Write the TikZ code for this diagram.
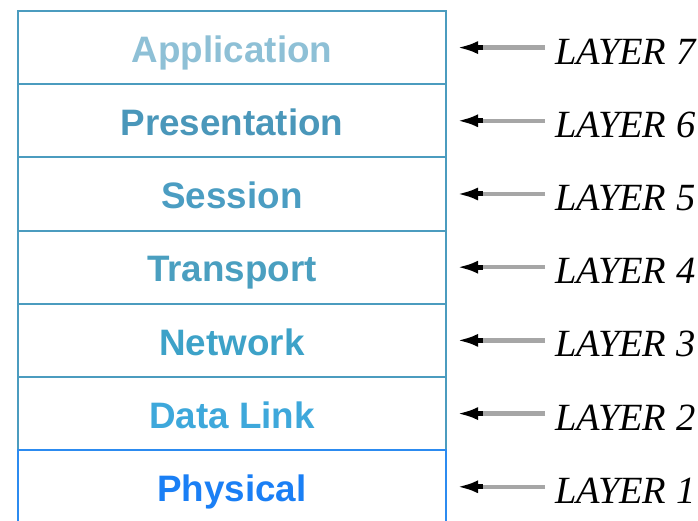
\documentclass[tikz,border=0pt]{standalone}
\usepackage{fontspec}
\setmainfont{Liberation Serif}
\newfontfamily\lsans{Liberation Sans}
\usetikzlibrary{arrows.meta}
\definecolor{boxc}{HTML}{4B9CBF}
\definecolor{physbox}{HTML}{2C8BF0}
\definecolor{cA}{HTML}{8EC0D6}
\definecolor{cP}{HTML}{4A97BA}
\definecolor{cS}{HTML}{4B9DC2}
\definecolor{cT}{HTML}{4A9FC0}
\definecolor{cN}{HTML}{3DA2C8}
\definecolor{cD}{HTML}{3EA8DB}
\definecolor{cPh}{HTML}{1A7FF5}
\definecolor{arrgray}{HTML}{A6A6A6}
\begin{document}
\begin{tikzpicture}[x=1pt,y=1pt,
  layerbox/.style={draw=boxc, line width=2pt, fill=white, anchor=north west,
    minimum width=428pt, minimum height=73.2pt, inner sep=0pt,
    text height=29.5pt, text depth=0pt,
    font=\lsans\bfseries\fontsize{36.8}{36.8}\selectfont},
  laylabel/.style={anchor=west, inner sep=0pt, text height=33pt, text depth=0pt,
    font=\itshape\fontsize{38.5}{38.5}\selectfont},
  grayshaft/.style={draw=arrgray, line width=4.5pt, shorten <=10pt, shorten >=36pt},
  blackhead/.style={draw=black, line width=5pt, shorten <=72pt, shorten >=10pt,
    -{Latex[length=21pt,width=13pt]}}
]
\useasboundingbox (0,0) rectangle (698,521);
\node[layerbox, text=cA] (L7) at (17,511) {Application};
\node[layerbox, text=cP] (L6) at (17,437.8) {Presentation};
\node[layerbox, text=cS] (L5) at (17,364.6) {Session};
\node[layerbox, text=cT] (L4) at (17,291.4) {Transport};
\node[layerbox, text=cN] (L3) at (17,218.2) {Network};
\node[layerbox, text=cD] (L2) at (17,145) {Data Link};
\node[layerbox, draw=physbox, text=cPh] (L1) at (17,71.8) {Physical};

\foreach \i in {1,...,7}{
  \node[laylabel] (T\i) at (555,0 |- L\i.east) {LAYER \i};
  \draw[grayshaft] (T\i.west) -- (L\i.east);
  \draw[blackhead] (T\i.west) -- (L\i.east);
}
\end{tikzpicture}
\end{document}
